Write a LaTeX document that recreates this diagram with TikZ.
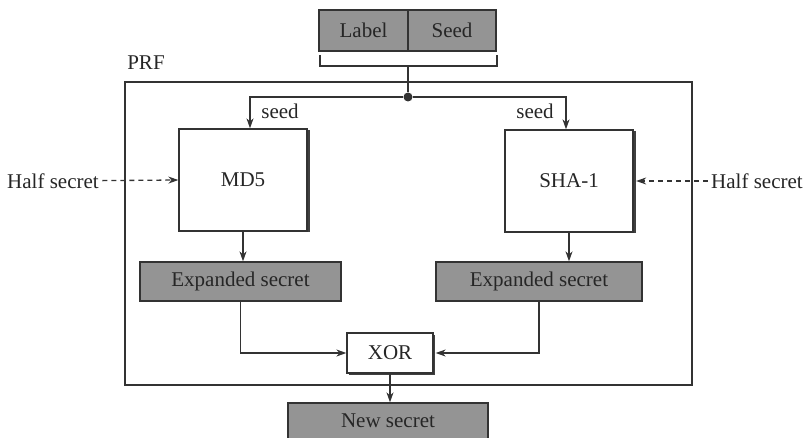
\documentclass[tikz,border=0pt]{standalone}
\usepackage{fontspec}
\setmainfont{Liberation Serif}
\usepackage{tikz}
\usetikzlibrary{positioning,arrows.meta,calc,shadows}

\begin{document}
\begin{tikzpicture}[x=1pt,y=-1pt,>={Stealth[length=10pt,width=7pt]},
		every node/.style={font=\fontsize{21}{24}\selectfont,text=black!85},
		line/.style={draw=black!80,line width=1.3pt},
		hash/.style={line,fill=white,minimum width=128pt,minimum height=102pt,
			drop shadow={shadow xshift=2.5pt,shadow yshift=-1pt,fill=black!75,opacity=1}},
		greybox/.style={line,fill=black!42,inner sep=0pt,minimum height=39pt},
		xorbox/.style={line,fill=white,minimum width=86pt,minimum height=40pt,
			drop shadow={shadow xshift=2pt,shadow yshift=-2pt,fill=black!75,opacity=1}},
		]
		\useasboundingbox (0,0) rectangle (810,438);
		
		% Label and seed
		\node[greybox,minimum width=89pt,minimum height=41pt] (label) at (363.5,30.5) {Label};
		\node[greybox,minimum width=88pt,minimum height=41pt] (seed) at (452,30.5) {Seed};
		\coordinate (bl) at (320,55);
		\coordinate (br) at (497,55);
		\coordinate (bm) at (408,66);
		\draw[line] (bl) -- (320,66) -- (497,66) -- (br);
		
		% PRF frame
		\node[line,minimum width=567pt,minimum height=303pt,inner sep=0pt] (prf) at (408.5,233.5) {};
		\node (prflabel) at (146,63) {PRF};
		
		% Split point
		\node[circle,fill=black!80,inner sep=0pt,minimum size=9pt] (dot) at (408,97) {};
		\draw[line] (bm) -- (dot);
		
		% Hash functions
		\node[hash] (md5) at (243,180) {MD5};
		\node[hash] (sha) at (569,181) {SHA-1};
		
		\draw[line,->] (dot) -| ([xshift=7pt]md5.north);
		\draw[line,->] (dot) -| ([xshift=-3pt]sha.north);
		\node (seed1) at (280,111) {seed};
		\node (seed2) at (535,111) {seed};
		
		% Half secrets
		\node (hs1) at (53,181) {Half secret};
		\node (hs2) at (757,181) {Half secret};
		\draw[line,->,dash pattern=on 5pt off 4pt] (hs1) -- (md5.west);
		\draw[line,->,dash pattern=on 5pt off 4pt] (hs2) -- ([xshift=2.5pt]sha.east);
		
		% Expanded secrets
		\node[greybox,minimum width=201pt] (exp1) at (240.5,281.5) {Expanded secret};
		\node[greybox,minimum width=206pt] (exp2) at (539,281.5) {Expanded secret};
		\draw[line,->] (md5) -- (md5 |- exp1.north);
		\draw[line,->] (sha) -- (sha |- exp2.north);
		
		% XOR and output
		\node[xorbox] (xor) at (390,353) {XOR};
		\node[greybox,minimum width=200pt,minimum height=36pt] (new) at (388,421) {New secret};
		\draw[line,->] (exp1) |- (xor.west);
		\draw[line,->] (exp2) |- ([xshift=2pt]xor.east);
		\draw[line,->] (xor) -- (xor |- new.north);
		
	\end{tikzpicture}
\end{document}
